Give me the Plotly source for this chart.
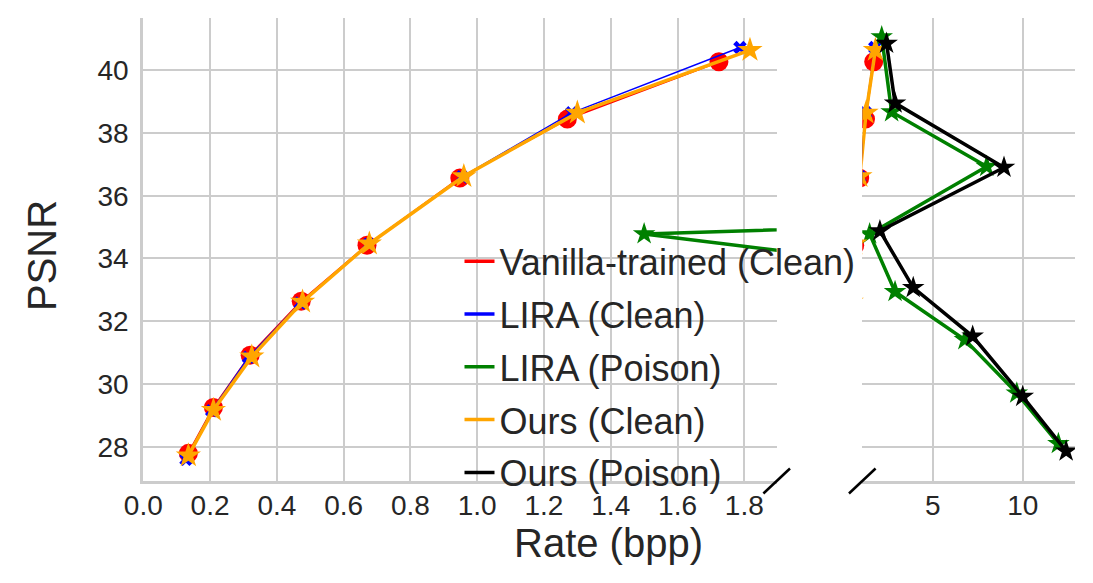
import plotly.graph_objects as go

# Rate (bpp) / PSNR
rate_vanilla = [0.135, 0.21, 0.32, 0.473, 0.67, 0.948, 1.27, 1.724]
psnr_vanilla = [27.79, 29.25, 30.92, 32.64, 34.42, 36.56, 38.44, 40.27]

rate_lira_clean = [0.128, 0.205, 0.315, 0.47, 0.675, 0.955, 1.283, 1.787]
psnr_lira_clean = [27.6, 29.15, 30.85, 32.58, 34.45, 36.6, 38.64, 40.72]

rate_lira_poison = [2.17, 2.72, 8.0, 1.5, 2.91, 6.79, 9.67, 11.98]
psnr_lira_poison = [41.06, 38.67, 36.93, 34.78, 32.94, 31.41, 29.71, 28.1]

rate_ours_clean = [0.135, 0.21, 0.325, 0.477, 0.677, 0.96, 1.30, 1.817]
psnr_ours_clean = [27.72, 29.17, 30.87, 32.62, 34.47, 36.62, 38.64, 40.64]

rate_ours_poison = [2.44, 2.91, 8.96, 2.07, 3.92, 7.22, 10.0, 12.41]
psnr_ours_poison = [40.85, 38.95, 36.9, 34.88, 33.07, 31.52, 29.6, 27.86]

series = [
    ("Vanilla-trained (Clean)", rate_vanilla, psnr_vanilla, "red", 2, "circle", 19),
    ("LIRA (Clean)", rate_lira_clean, psnr_lira_clean, "blue", 1.5, "x", 12),
    ("LIRA (Poison)", rate_lira_poison, psnr_lira_poison, "green", 3.5, "star", 17),
    ("Ours (Clean)", rate_ours_clean, psnr_ours_clean, "orange", 3.5, "star", 19),
    ("Ours (Poison)", rate_ours_poison, psnr_ours_poison, "black", 3.5, "star", 17),
]

FONT = "Liberation Sans, Arial, sans-serif"
TXT = "#262626"
GRID = "#cccccc"

fig = go.Figure()
for i, (name, x, y, color, lw, sym, ms) in enumerate(series):
    for xa in ["x", "x2"]:
        fig.add_trace(go.Scatter(x=x, y=y, mode="lines+markers", xaxis=xa, yaxis="y",
                                 line=dict(color=color, width=lw),
                                 marker=dict(symbol=sym, size=ms, color=color, line=dict(width=0)),
                                 showlegend=False, hoverinfo="skip"))
    # legend entry shows only the line
    fig.add_trace(go.Scatter(x=[None], y=[None], mode="lines", name=name,
                             line=dict(color=color, width=3.5), legendgroup=name))

axis_common = dict(showgrid=True, gridcolor=GRID, gridwidth=2, zeroline=False, automargin=False,
                   tickfont=dict(size=28, color=TXT))

fig.update_layout(
    width=1093, height=583,
    margin=dict(l=0, r=0, t=0, b=0),
    paper_bgcolor="white", plot_bgcolor="white",
    font=dict(family=FONT, color=TXT),
    xaxis=dict(domain=[0.1311, 0.7106], range=[0, 1.897], dtick=0.2, tick0=0, tickformat=".1f",
               showline=True, linecolor=GRID, linewidth=3, ticklabelstandoff=-3, **axis_common),
    xaxis2=dict(domain=[0.7889, 0.9835], range=[1.09, 12.9], dtick=5, tick0=0,
                showline=True, linecolor=GRID, linewidth=3, ticklabelstandoff=-3, **axis_common),
    yaxis=dict(domain=[0.175, 0.969], range=[26.91, 41.66], dtick=2, tick0=0,
               showline=True, linecolor=GRID, linewidth=3, ticklabelstandoff=6, **axis_common),
    yaxis2=dict(domain=[0.175, 0.969], range=[26.91, 41.66], dtick=2, tick0=0,
                anchor="x2", overlaying="y", showticklabels=False, showline=False, **axis_common),
    legend=dict(x=0.4204, y=0.6033, xanchor="left", yanchor="top", bgcolor="rgba(0,0,0,0)",
                font=dict(size=36, color=TXT), tracegroupgap=3),
    showlegend=True,
)

# horizontal grid lines in the right panel
fig.add_trace(go.Scatter(x=[None], y=[None], xaxis="x2", yaxis="y2", showlegend=False))

# axis titles
fig.add_annotation(text="Rate (bpp)", xref="paper", yref="paper", x=608 / 1093, y=1 - 543 / 583,
                   xanchor="center", yanchor="middle", showarrow=False, font=dict(size=40, color=TXT))
fig.add_annotation(text="PSNR", xref="paper", yref="paper", x=42 / 1093, y=1 - 256 / 583,
                   xanchor="center", yanchor="middle", textangle=-90, showarrow=False,
                   font=dict(size=40, color=TXT))

# broken-axis marks
for xr, xc in [("x domain", 1.0), ("x2 domain", 0.0)]:
    w = 0.021 if xr == "x domain" else 0.0625
    fig.add_shape(type="line", xref=xr, yref="y domain", x0=xc - w, x1=xc + w, y0=-0.027, y1=0.027,
                  line=dict(color="black", width=2.5))

fig.write_html("out.html", config={"displayModeBar": False},
               post_script="document.body.style.margin='0';")
